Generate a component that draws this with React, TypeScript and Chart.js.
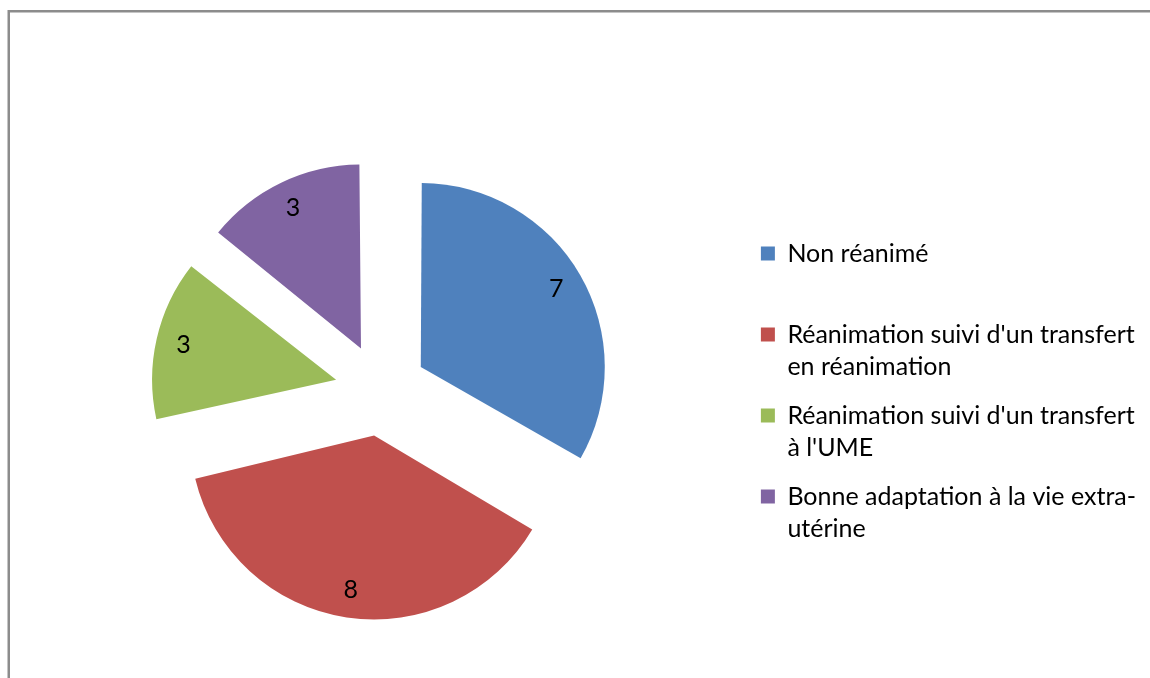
import { useEffect, useRef } from 'react';
import { Chart, registerables } from 'chart.js';

Chart.register(...registerables);

// ---- data ----
const categories: string[][] = [
  ['Non réanimé', ''],
  ["Réanimation suivi d'un transfert", 'en réanimation'],
  ["Réanimation suivi d'un transfert", "à l'UME"],
  ['Bonne adaptation à la vie extra-', 'utérine'],
];
const values: number[] = [7, 8, 3, 3];
const colors: string[] = ['#4F81BD', '#C0504D', '#9BBB59', '#8064A2'];

// ---- style ----
const FONT_FAMILY = 'Lato, "Open Sans", sans-serif';
const FONT_SIZE = 25;
const EXPLODE = 184; // chart.js translates each slice by offset / 4
const LABEL_POS = 0.85;

const growth = (arc: any) =>
  (EXPLODE / 4) * (1 - Math.sin(Math.min(Math.PI, arc.endAngle - arc.startAngle)));

const frame = {
  id: 'frame',
  beforeDraw(chart: any) {
    const ctx = chart.ctx;
    ctx.save();
    ctx.strokeStyle = '#8c8c8c';
    ctx.lineWidth = 2.5;
    ctx.beginPath();
    ctx.moveTo(8.75, chart.height);
    ctx.lineTo(8.75, 11.25);
    ctx.lineTo(chart.width, 11.25);
    ctx.stroke();
    ctx.restore();
  },
};

// keep exploded slices at the same radius (chart.js grows small slices)
const explodeFix = {
  id: 'explodeFix',
  afterDatasetUpdate(_chart: any, args: any) {
    args.meta.data.forEach((arc: any) => {
      arc.outerRadius -= growth(arc);
    });
  },
};

const sliceLabels = {
  id: 'sliceLabels',
  afterDatasetsDraw(chart: any) {
    const meta = chart.getDatasetMeta(0);
    const ctx = chart.ctx;
    ctx.save();
    ctx.font = `${FONT_SIZE}px ${FONT_FAMILY}`;
    ctx.fillStyle = '#000';
    ctx.textAlign = 'center';
    ctx.textBaseline = 'middle';
    meta.data.forEach((arc: any, i: number) => {
      const mid = (arc.startAngle + arc.endAngle) / 2;
      const t = EXPLODE / 4;
      const cx = arc.x + Math.cos(mid) * t;
      const cy = arc.y + Math.sin(mid) * t;
      const r = (arc.outerRadius + growth(arc)) * LABEL_POS;
      ctx.fillText(String(values[i]), cx + Math.cos(mid) * r, cy + Math.sin(mid) * r);
    });
    ctx.restore();
  },
};

export default function App() {
  const ref = useRef<HTMLCanvasElement>(null);
  useEffect(() => {
    if (!ref.current) return;
    const chart = new Chart(ref.current, {
      type: 'pie',
      data: {
        labels: categories as any,
        datasets: [
          {
            data: values,
            backgroundColor: colors,
            borderWidth: 0,
            offset: EXPLODE,
            hoverOffset: 0,
          },
        ],
      },
      options: {
        animation: false,
        responsive: false,
        events: [],
        layout: { padding: { left: 18, top: 114, bottom: 12, right: 4 } },
        plugins: {
          tooltip: { enabled: false },
          legend: {
            position: 'right',
            title: { display: true, text: '', font: { size: 1, lineHeight: 1 }, padding: 4 },
            labels: {
              boxWidth: 14,
              boxHeight: 14,
              padding: 17,
              color: '#000',
              font: { family: FONT_FAMILY, size: FONT_SIZE, lineHeight: '32px' as any },
            },
          },
        },
      },
      plugins: [frame, explodeFix, sliceLabels],
    });
    return () => chart.destroy();
  }, []);
  return (
    <div style={{ position: 'absolute', left: 0, top: 0, width: 1150, height: 678, background: '#fff' }}>
      <canvas ref={ref} width={1150} height={678} />
    </div>
  );
}
